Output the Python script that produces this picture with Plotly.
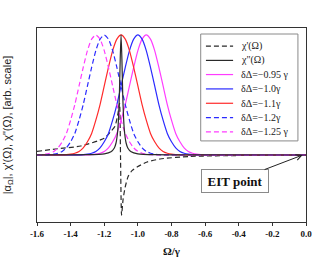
import plotly.graph_objects as go

# ---------------- data ----------------
# chi' (dispersion, dashed black)
chi1_x = [-1.6, -1.49, -1.34, -1.2, -1.165, -1.136, -1.118, -1.109, -1.103, -1.097,
          -1.088, -1.076, -1.058, -1.035, -1.005, -0.945, -0.868, -0.69, -0.39, 0.0]
chi1_y = [0.03, 0.05, 0.075, 0.14, 0.19, 0.24, 0.35, 0.43, -0.04, -0.50,
          -0.37, -0.27, -0.18, -0.13, -0.10, -0.058, -0.033, -0.012, -0.004, 0.0]

# chi'' (absorption, solid black)
chi2_x = [-1.6, -1.3, -1.2, -1.16, -1.14, -1.13, -1.12, -1.115, -1.11, -1.105, -1.1,
          -1.095, -1.09, -1.085, -1.08, -1.07, -1.06, -1.04, -1.0, -0.9, -0.6, 0.0]
chi2_y = [0.0004, 0.0025, 0.0099, 0.027, 0.059, 0.1, 0.2, 0.31, 0.5, 0.8, 1.0,
          0.8, 0.5, 0.31, 0.2, 0.1, 0.059, 0.027, 0.0099, 0.0025, 0.0004, 0.0001]

# |alpha_Omega| for detuning dDelta = -0.95 gamma (solid magenta)
a095_x = [-1.6, -1.3, -1.275, -1.25, -1.225, -1.2, -1.175, -1.15, -1.125, -1.1, -1.075,
          -1.05, -1.025, -1.0, -0.975, -0.95, -0.925, -0.9, -0.875, -0.85, -0.825,
          -0.8, -0.775, -0.75, -0.725, -0.7, -0.675, -0.65, -0.625, -0.6, 0.0]
a095_y = [0.0, 0.001, 0.003, 0.007, 0.015, 0.03, 0.06, 0.11, 0.18, 0.29, 0.42,
          0.575, 0.73, 0.87, 0.965, 1.0, 0.965, 0.87, 0.73, 0.575, 0.42,
          0.29, 0.18, 0.11, 0.06, 0.03, 0.015, 0.007, 0.003, 0.001, 0.0]

# dDelta = -1.0 gamma (solid blue)
a100_x = [-1.6, -1.35, -1.325, -1.3, -1.275, -1.25, -1.225, -1.2, -1.175, -1.15, -1.125,
          -1.1, -1.075, -1.05, -1.025, -1.0, -0.975, -0.95, -0.925, -0.9, -0.875,
          -0.85, -0.825, -0.8, -0.775, -0.75, -0.725, -0.7, -0.675, -0.65, 0.0]
a100_y = [0.0, 0.001, 0.003, 0.007, 0.015, 0.03, 0.06, 0.11, 0.18, 0.29, 0.42,
          0.575, 0.73, 0.87, 0.965, 1.0, 0.965, 0.87, 0.73, 0.575, 0.42,
          0.29, 0.18, 0.11, 0.06, 0.03, 0.015, 0.007, 0.003, 0.001, 0.0]

# dDelta = -1.1 gamma (solid red)
a110_x = [-1.6, -1.45, -1.425, -1.4, -1.375, -1.35, -1.325, -1.3, -1.275, -1.25, -1.225,
          -1.2, -1.175, -1.15, -1.125, -1.1, -1.075, -1.05, -1.025, -1.0, -0.975,
          -0.95, -0.925, -0.9, -0.875, -0.85, -0.825, -0.8, -0.775, -0.75, 0.0]
a110_y = [0.0, 0.001, 0.003, 0.007, 0.015, 0.03, 0.06, 0.11, 0.18, 0.29, 0.42,
          0.575, 0.73, 0.87, 0.965, 1.0, 0.965, 0.87, 0.73, 0.575, 0.42,
          0.29, 0.18, 0.11, 0.06, 0.03, 0.015, 0.007, 0.003, 0.001, 0.0]

# dDelta = -1.2 gamma (dashed blue)
a120_x = [-1.6, -1.55, -1.525, -1.5, -1.475, -1.45, -1.425, -1.4, -1.375, -1.35, -1.325,
          -1.3, -1.275, -1.25, -1.225, -1.2, -1.175, -1.15, -1.125, -1.1, -1.075,
          -1.05, -1.025, -1.0, -0.975, -0.95, -0.925, -0.9, -0.875, -0.85, 0.0]
a120_y = [0.0, 0.001, 0.003, 0.007, 0.015, 0.03, 0.06, 0.11, 0.18, 0.29, 0.42,
          0.575, 0.73, 0.87, 0.965, 1.0, 0.965, 0.87, 0.73, 0.575, 0.42,
          0.29, 0.18, 0.11, 0.06, 0.03, 0.015, 0.007, 0.003, 0.001, 0.0]

# dDelta = -1.25 gamma (dashed magenta)
a125_x = [-1.6, -1.575, -1.55, -1.525, -1.5, -1.475, -1.45, -1.425, -1.4, -1.375,
          -1.35, -1.325, -1.3, -1.275, -1.25, -1.225, -1.2, -1.175, -1.15, -1.125,
          -1.1, -1.075, -1.05, -1.025, -1.0, -0.975, -0.95, -0.925, -0.9, 0.0]
a125_y = [0.001, 0.003, 0.007, 0.015, 0.03, 0.06, 0.11, 0.18, 0.29, 0.42,
          0.575, 0.73, 0.87, 0.965, 1.0, 0.965, 0.87, 0.73, 0.575, 0.42,
          0.29, 0.18, 0.11, 0.06, 0.03, 0.015, 0.007, 0.003, 0.001, 0.0]

x_ticks = [-1.6, -1.4, -1.2, -1.0, -0.8, -0.6, -0.4, -0.2, 0.0]
x_tick_labels = ["-1.6", "-1.4", "-1.2", "-1.0", "-0.8", "-0.6", "-0.4", "-0.2", "0.0"]

legend_names = ["χ'(Ω)", 'χ"(Ω)', "δΔ=−0.95 γ", "δΔ=−1.0γ", "δΔ=−1.1γ",
                "δΔ=−1.2γ", "δΔ=−1.25 γ"]

# EIT point marker location and label box centre (data units)
eit_point = (-0.02, 0.0)
eit_label = (-0.425, -0.217)

# ---------------- styling ----------------
MAG = "#ff3cff"
BLU = "#2a2aff"
RED = "#ff2a2a"
BLK = "#2a2a2a"
DASH = "5px,3px"
LW = 1.2

series = [
    (chi1_x, chi1_y, BLK, DASH, legend_names[0]),
    (a095_x, a095_y, MAG, "solid", legend_names[2]),
    (a100_x, a100_y, BLU, "solid", legend_names[3]),
    (a110_x, a110_y, RED, "solid", legend_names[4]),
    (a120_x, a120_y, BLU, DASH, legend_names[5]),
    (a125_x, a125_y, MAG, DASH, legend_names[6]),
    (chi2_x, chi2_y, BLK, "solid", legend_names[1]),
]

fig = go.Figure()
for xs, ys, col, dash, name in series:
    fig.add_trace(go.Scatter(x=xs, y=ys, mode="lines", name=name, showlegend=False,
                             line=dict(color=col, width=LW, dash=dash, shape="spline",
                                       smoothing=0.6)))

# ---------------- compact legend (paper coordinates) ----------------
L_LEFT, L_RIGHT, L_TOP, L_BOT = 0.6086, 0.970, 0.969, 0.418
fig.add_shape(type="rect", xref="paper", yref="paper", x0=L_LEFT, x1=L_RIGHT,
              y0=L_BOT, y1=L_TOP, line=dict(color="#8a8a8a", width=1),
              fillcolor="white", layer="above")
legend_styles = [(BLK, DASH), (BLK, "solid"), (MAG, "solid"), (BLU, "solid"),
                 (RED, "solid"), (BLU, DASH), (MAG, DASH)]
row_y = [0.907, 0.833, 0.760, 0.686, 0.612, 0.538, 0.465]
for (col, dash), name, yy in zip(legend_styles, legend_names, row_y):
    fig.add_shape(type="line", xref="paper", yref="paper", x0=0.628, x1=0.729,
                  y0=yy, y1=yy, line=dict(color=col, width=LW, dash=dash), layer="above")
    fig.add_annotation(xref="paper", yref="paper", x=0.752, y=yy, text=name,
                       showarrow=False, xanchor="left", yanchor="middle",
                       font=dict(family="Liberation Serif", size=10, color="#222"))

# ---------------- EIT point annotation (box + arrow to the EIT point) ----------------
fig.add_annotation(x=eit_point[0], y=eit_point[1], xref="x", yref="y",
                   ax=eit_label[0], ay=eit_label[1], axref="x", ayref="y",
                   xanchor="center", yanchor="middle",
                   text="<b>EIT point</b>", showarrow=True, arrowhead=5, arrowsize=1.1,
                   arrowwidth=1, arrowcolor="#222",
                   font=dict(family="Liberation Serif", size=13, color="#111"),
                   bgcolor="white", bordercolor="#8a8a8a", borderwidth=1, borderpad=3,
                   width=60, height=16)

fig.update_layout(
    width=320, height=267,
    margin=dict(l=37, r=14, t=28, b=45, autoexpand=False),
    paper_bgcolor="white", plot_bgcolor="white",
    xaxis=dict(range=[-1.6, 0.0], tickvals=x_ticks,
               ticktext=["<b>%s</b>" % t for t in x_tick_labels],
               ticks="outside", ticklen=3, tickwidth=1, tickcolor="#333",
               showline=True, linecolor="#333", linewidth=1, mirror=True,
               showgrid=False, zeroline=False, automargin=False,
               tickfont=dict(family="Liberation Serif", size=9, color="#111"),
               title=dict(text="<b>Ω/γ</b>", standoff=9,
                          font=dict(family="Liberation Serif", size=11, color="#111"))),
    yaxis=dict(range=[-0.558, 1.058], showticklabels=False, ticks="",
               showline=True, linecolor="#333", linewidth=1, mirror=True,
               showgrid=False, zeroline=False, automargin=False,
               title=dict(text="|α<sub>Ω</sub>|, χ'(Ω), χ\"(Ω), [arb. scale]", standoff=22,
                          font=dict(family="Liberation Sans", size=11, color="#222"))),
)

fig.write_html("out.html", config={"displayModeBar": False},
               post_script="document.body.style.margin='0px';")
